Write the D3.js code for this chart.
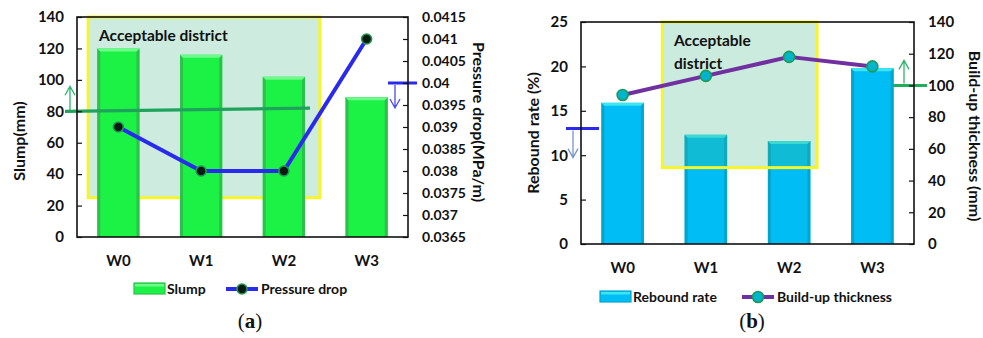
<!DOCTYPE html>
<html>
<head>
<meta charset="utf-8">
<script src="https://cdn.jsdelivr.net/npm/d3@7"></script>
<style>
  body { margin: 0; background: #fff; }
  svg { display: block; }
  text { font-family: Lato, "Open Sans", sans-serif; font-weight: 700; fill: #111; }
</style>
</head>
<body>
<svg id="chart" width="983" height="338"></svg>
<script>
// ---- data ----
const categories = ["W0", "W1", "W2", "W3"];
const slump = [120, 116, 102, 89];                    // mm
const pressureDrop = [0.039, 0.038, 0.038, 0.041];    // MPa/m
const reboundRate = [15.9, 12.3, 11.6, 19.8];         // %
const buildUpThickness = [94, 106, 118, 112];         // mm

const slumpTicks = [0, 20, 40, 60, 80, 100, 120, 140];
const pressureTicks = [0.0365, 0.037, 0.0375, 0.038, 0.0385, 0.039, 0.0395, 0.04, 0.0405, 0.041, 0.0415];
const reboundTicks = [0, 5, 10, 15, 20, 25];
const thicknessTicks = [0, 20, 40, 60, 80, 100, 120, 140];

// requirement limits marked beside the axes
const slumpLimit = 80;
const pressureLimit = 0.04;
const reboundLimit = 13;
const thicknessLimit = 100;

// acceptable district bounds (lower edge on the left axis)
const slumpDistrictMin = 25;
const reboundDistrictMin = 8.6;

const svg = d3.select("#chart");

function bandScale(x0, x1) {
  return d3.scaleBand().domain(categories).range([x0, x1]).paddingInner(0.49).paddingOuter(0.245);
}

function drawBars(g, x, y, values, col) {
  const y0 = y.range()[0];
  const b = 3;
  categories.forEach((c, i) => {
    const bx = x(c), bw = x.bandwidth(), by = y(values[i]);
    const bar = g.append("g");
    bar.append("rect").attr("x", bx).attr("y", by).attr("width", bw).attr("height", y0 - by)
      .attr("fill", col.fill);
    bar.append("path").attr("fill", col.side)
      .attr("d", `M${bx},${by}L${bx + b},${by + b}L${bx + b},${y0}L${bx},${y0}Z`);
    bar.append("path").attr("fill", col.side)
      .attr("d", `M${bx + bw},${by}L${bx + bw - b},${by + b}L${bx + bw - b},${y0}L${bx + bw},${y0}Z`);
    bar.append("path").attr("fill", col.top)
      .attr("d", `M${bx},${by}L${bx + bw},${by}L${bx + bw - b},${by + b}L${bx + b},${by + b}Z`);
  });
}

function drawAxes(g, x, yL, yR, ticksL, ticksR, fsR) {
  const [x0, x1] = x.range();
  const [yb, yt] = yL.range();
  const left = g.append("g").attr("transform", `translate(${x0},0)`)
    .call(d3.axisLeft(yL).tickValues(ticksL).tickFormat(d => String(d)).tickSize(-5).tickSizeOuter(0).tickPadding(13));
  const right = g.append("g").attr("transform", `translate(${x1},0)`)
    .call(d3.axisRight(yR).tickValues(ticksR).tickFormat(d => String(d)).tickSize(-5).tickSizeOuter(0).tickPadding(14));
  const bottom = g.append("g").attr("transform", `translate(0,${yb})`)
    .call(d3.axisBottom(x).tickSize(0).tickPadding(18));
  [left, right, bottom].forEach(a => {
    a.select(".domain").remove();
    a.selectAll("line").attr("stroke", "#111").attr("stroke-width", 1.2);
    a.selectAll("text").style("font-family", "Lato, sans-serif").style("font-weight", 700).attr("fill", "#111");
  });
  left.selectAll("text").style("font-size", "15px");
  right.selectAll("text").style("font-size", fsR + "px");
  bottom.selectAll("text").style("font-size", "15px");
  g.append("rect").attr("x", x0).attr("y", yt).attr("width", x1 - x0).attr("height", yb - yt)
    .attr("fill", "none").attr("stroke", "#111").attr("stroke-width", 1.6);
}

function drawLine(g, x, y, values, col) {
  const pts = categories.map((c, i) => [x(c) + x.bandwidth() / 2, y(values[i])]);
  g.append("path").attr("d", d3.line()(pts)).attr("fill", "none")
    .attr("stroke", col.line).attr("stroke-width", 4).attr("stroke-linejoin", "round");
  g.selectAll(null).data(pts).join("circle")
    .attr("cx", d => d[0]).attr("cy", d => d[1]).attr("r", col.r)
    .attr("fill", col.dot).attr("stroke", col.ring).attr("stroke-width", 1.6);
}

function arrow(g, x, yFrom, yTo, color) {
  const dir = yTo < yFrom ? 1 : -1;
  g.append("path").attr("fill", "none").attr("stroke", color).attr("stroke-width", 1.3)
    .attr("d", `M${x},${yFrom}L${x},${yTo}M${x - 5},${yTo + dir * 9}L${x},${yTo}L${x + 5},${yTo + dir * 9}`);
}

function limitMark(g, xa, xb, yv, color) {
  g.append("line").attr("x1", xa).attr("x2", xb).attr("y1", yv).attr("y2", yv)
    .attr("stroke", color).attr("stroke-width", 3);
}

function district(g, xa, xb, ya, yb, opacity) {
  g.append("rect").attr("x", xa).attr("y", ya).attr("width", xb - xa).attr("height", yb - ya)
    .attr("fill", "rgb(60,180,130)").attr("fill-opacity", opacity)
    .attr("stroke", "#f5f52a").attr("stroke-width", 3);
}

function legend(g, x, y, items) {
  items.forEach(it => {
    if (it.type === "bar") {
      g.append("rect").attr("x", it.x).attr("y", y - 6).attr("width", 31).attr("height", 11)
        .attr("fill", it.fill).attr("stroke", it.side).attr("stroke-width", 1.2);
      g.append("rect").attr("x", it.x + 1).attr("y", y - 5).attr("width", 29).attr("height", 2.5).attr("fill", it.top);
    } else {
      g.append("line").attr("x1", it.x).attr("x2", it.x + 32).attr("y1", y).attr("y2", y)
        .attr("stroke", it.line).attr("stroke-width", 4);
      g.append("circle").attr("cx", it.x + 16).attr("cy", y).attr("r", it.r)
        .attr("fill", it.dot).attr("stroke", it.ring).attr("stroke-width", 1.6);
    }
    g.append("text").attr("x", it.x + (it.type === "bar" ? 33 : 35)).attr("y", y + 5)
      .style("font-size", "14px").text(it.label);
  });
}

function panelLabel(x, y, letter) {
  const t = svg.append("text").attr("x", x).attr("y", y).attr("text-anchor", "middle")
    .style("font-family", "'Liberation Serif', 'DejaVu Serif', serif").style("font-size", "21px").style("font-weight", 400);
  t.append("tspan").text("(");
  t.append("tspan").style("font-weight", 700).text(letter);
  t.append("tspan").text(")");
}

function axisTitle(x, y, angle, label) {
  svg.append("text").attr("transform", `translate(${x},${y}) rotate(${angle})`)
    .attr("text-anchor", "middle").attr("dominant-baseline", "central")
    .style("font-size", "16px").text(label);
}

// ---- panel (a): slump and pressure drop ----
{
  const g = svg.append("g");
  const x = bandScale(77, 408);
  const yL = d3.scaleLinear().domain([0, 140]).range([237, 17]);
  const yR = d3.scaleLinear().domain([0.0365, 0.0415]).range([237, 17]);
  const bw = x.step();
  const green = { fill: "#1cf245", side: "#2cc24a", top: "#6ef98a" };

  district(g, x("W0") - bw * 0.245 + bw * 0.135, x("W2") + x.bandwidth() + bw * 0.18, yL(140), yL(slumpDistrictMin), 0.26);
  drawBars(g, x, yL, slump, green);
  g.append("text").attr("x", 99).attr("y", 41).style("font-size", "15.5px").text("Acceptable district");

  // slump requirement
  g.append("line").attr("x1", 65).attr("x2", 310).attr("y1", yL(slumpLimit)).attr("y2", yL(slumpLimit + 2))
    .attr("stroke", "#1fa35c").attr("stroke-width", 3.2);
  arrow(g, 70, yL(slumpLimit) - 1, yL(slumpLimit) - 25, "#2bb56a");

  drawLine(g, x, yR, pressureDrop, { line: "#2a2aee", dot: "#0a1a10", ring: "#1e9a55", r: 5 });

  // pressure drop requirement
  limitMark(g, 388, 417, yR(pressureLimit), "#2a2aee");
  arrow(g, 395, yR(pressureLimit) + 2, yR(pressureLimit) + 25, "#4a4ae8");

  drawAxes(g, x, yL, yR, slumpTicks, pressureTicks, 14);
  axisTitle(18, 141, -90, "Slump(mm)");
  axisTitle(479, 122, 90, "Pressure drop(MPa/m)");

  legend(g, 0, 289, [
    { type: "bar", x: 134, label: "Slump", ...green },
    { type: "line", x: 226, label: "Pressure drop", line: "#2a2aee", dot: "#0a1a10", ring: "#1e9a55", r: 5 }
  ]);
  panelLabel(250, 328, "a");
}

// ---- panel (b): rebound rate and build-up thickness ----
{
  const g = svg.append("g");
  const x = bandScale(581, 914);
  const yL = d3.scaleLinear().domain([0, 25]).range([244, 22]);
  const yR = d3.scaleLinear().domain([0, 140]).range([244, 22]);
  const bw = x.step();
  const blue = { fill: "#00bdf5", side: "#00a6cc", top: "#3ce6f0" };

  drawBars(g, x, yL, reboundRate, blue);
  district(g, x("W1") - bw * 0.245 - 2, x("W2") + bw * 0.835 - bw * 0.245 + 0, yL(25), yL(reboundDistrictMin), 0.27);
  g.append("text").attr("x", 674).attr("y", 46).style("font-size", "15.5px").text("Acceptable");
  g.append("text").attr("x", 674).attr("y", 69).style("font-size", "15.5px").text("district");

  // rebound rate requirement
  limitMark(g, 566, 599, yL(reboundLimit), "#2a2aee");
  arrow(g, 573, yL(reboundLimit) + 2, yL(reboundLimit) + 29, "#7894d2");

  drawLine(g, x, yR, buildUpThickness, { line: "#7030a0", dot: "#00b4cc", ring: "#1e9a55", r: 5.5 });

  // build-up thickness requirement
  limitMark(g, 893, 927, yR(thicknessLimit), "#1fae5a");
  arrow(g, 904, yR(thicknessLimit) - 2, yR(thicknessLimit) - 25, "#2bb56a");

  drawAxes(g, x, yL, yR, reboundTicks, thicknessTicks, 15);
  axisTitle(532, 133, -90, "Rebound rate (%)");
  axisTitle(975, 136, 90, "Build-up thickness (mm)");

  legend(g, 0, 297, [
    { type: "bar", x: 600, label: "Rebound rate", ...blue },
    { type: "line", x: 742, label: "Build-up thickness", line: "#7030a0", dot: "#00b4cc", ring: "#1e9a55", r: 5.5 }
  ]);
  panelLabel(752, 328, "b");
}
</script>
</body>
</html>
